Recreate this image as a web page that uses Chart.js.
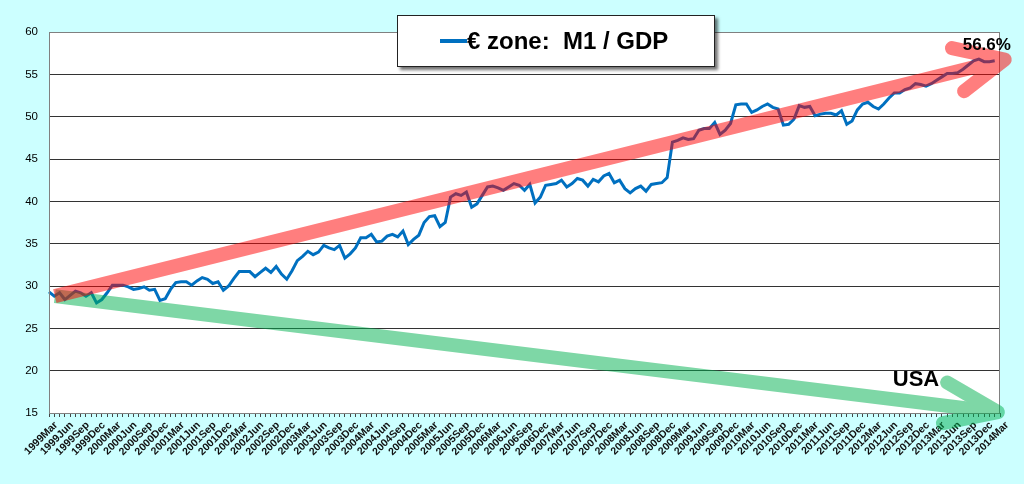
<!DOCTYPE html>
<html><head><meta charset="utf-8">
<script src="https://cdn.jsdelivr.net/npm/chart.js@4"></script>
<style>html,body{margin:0;padding:0;background:#CCFFFF;overflow:hidden}</style>
</head><body>
<canvas id="c" width="1024" height="484" style="width:1024px;height:484px;display:block"></canvas>
<script>
const monthNames = ['Jan','Feb','Mar','Apr','May','Jun','Jul','Aug','Sep','Oct','Nov','Dec'];
const firstYear = 1999, firstMonth = 2, lastYear = 2014, lastMonth = 2;
const categories = [];
for (let y = firstYear; y <= lastYear; y++) {
  for (let m = 0; m < 12; m++) {
    if (y === firstYear && m < firstMonth) continue;
    if (y === lastYear && m > lastMonth) continue;
    categories.push(y + monthNames[m]);
  }
}
const m1gdp = [
 29.3,28.8,29.2,28.4,28.9,29.4,29.2,28.8,29.2,28.0,28.4,29.2,
 30.1,30.1,30.1,29.9,29.6,29.7,29.9,29.5,29.6,28.3,28.5,29.6,
 30.4,30.5,30.5,30.1,30.6,31.0,30.8,30.3,30.5,29.5,30.0,30.9,
 31.7,31.7,31.7,31.1,31.6,32.1,31.6,32.3,31.4,30.8,31.8,33.0,
 33.5,34.1,33.7,34.0,34.8,34.5,34.3,34.8,33.3,33.8,34.5,35.7,
 35.7,36.1,35.2,35.3,35.9,36.1,35.8,36.5,34.9,35.5,36.0,37.5,
 38.2,38.3,37.0,37.5,40.5,40.9,40.7,41.1,39.3,39.7,40.7,41.7,
 41.8,41.6,41.3,41.7,42.1,41.9,41.3,42.0,39.8,40.5,41.9,42.0,
 42.1,42.5,41.7,42.1,42.7,42.5,41.8,42.6,42.3,43.0,43.3,42.2,
 42.5,41.5,41.0,41.5,41.8,41.2,42.0,42.1,42.2,42.8,47.0,47.2,
 47.5,47.3,47.4,48.4,48.6,48.6,49.3,47.9,48.4,49.2,51.4,51.5,
 51.5,50.5,50.8,51.2,51.5,51.1,50.9,49.0,49.1,49.7,51.3,51.1,
 51.2,50.1,50.3,50.4,50.4,50.2,50.7,49.1,49.5,50.8,51.5,51.7,
 51.2,50.9,51.5,52.2,52.8,52.8,53.2,53.4,53.9,53.8,53.6,53.9,
 54.3,54.7,55.1,55.1,55.2,55.6,56.1,56.6,56.8,56.5,56.5,56.6,
 null
];
const yMin = 15, yMax = 60, yStep = 5;
const seriesLabel = '€ zone:  M1 / GDP';
const endLabel = '56.6%';
const usaLabel = 'USA';
// annotation arrows in data space: [categoryIndex, value]
const euroArrow = { start:[1.1,28.8], tip:[180.9,56.75], arm1:[170.9,58.1], arm2:[173.2,53.0] };
const usaArrow  = { start:[1.1,28.8], tip:[179.6,15.1], arm1:[170.0,18.6], arm2:[169.2,13.8] };
const endLabelPos = [177.5,58.4];
const usaLabelPos = [164.1,18.9];

const FONT = "'Liberation Sans', Arial, sans-serif";

function drawArrow(chart, arr, color, width){
  const xs = chart.scales.x, ys = chart.scales.y;
  const P = p => [xs.getPixelForValue(p[0]), ys.getPixelForValue(p[1])];
  const off = document.createElement('canvas');
  off.width = chart.canvas.width; off.height = chart.canvas.height;
  const o = off.getContext('2d');
  const r = chart.currentDevicePixelRatio || 1;
  o.scale(r, r);
  o.strokeStyle = color; o.lineWidth = width;
  const s = P(arr.start), t = P(arr.tip), a1 = P(arr.arm1), a2 = P(arr.arm2);
  o.lineCap = 'butt';
  o.beginPath(); o.moveTo(s[0], s[1]); o.lineTo(t[0], t[1]); o.stroke();
  o.lineCap = 'round'; o.lineJoin = 'round';
  o.beginPath(); o.moveTo(a1[0], a1[1]); o.lineTo(t[0], t[1]); o.lineTo(a2[0], a2[1]); o.stroke();
  const ctx = chart.ctx;
  ctx.save();
  ctx.setTransform(1,0,0,1,0,0);
  ctx.globalAlpha = 0.5;
  ctx.drawImage(off, 0, 0);
  ctx.restore();
}

const decor = {
  id: 'decor',
  beforeDraw(chart){
    const {ctx, chartArea:a} = chart;
    ctx.save();
    ctx.fillStyle = '#CCFFFF';
    ctx.fillRect(0, 0, chart.width, chart.height);
    ctx.fillStyle = '#FFFFFF';
    ctx.fillRect(a.left, a.top, a.right - a.left, a.bottom - a.top);
    ctx.restore();
  },
  afterDatasetsDraw(chart){
    const {ctx, chartArea:a} = chart;
    ctx.save();
    ctx.strokeStyle = '#808080'; ctx.lineWidth = 1;
    ctx.strokeRect(a.left + 0.5, a.top + 0.5, a.right - a.left - 1, a.bottom - a.top);
    ctx.restore();
  },
  afterDraw(chart){
    const ctx = chart.ctx;
    drawArrow(chart, usaArrow, '#00B050', 14);
    drawArrow(chart, euroArrow, '#FF0000', 14);
    const xs = chart.scales.x, ys = chart.scales.y;
    ctx.save();
    ctx.shadowColor = 'rgba(0,0,0,0.55)';
    ctx.shadowOffsetX = 3; ctx.shadowOffsetY = 3; ctx.shadowBlur = 3;
    ctx.fillStyle = '#FFFFFF';
    ctx.fillRect(397, 15, 318, 52);
    ctx.shadowColor = 'transparent';
    ctx.strokeStyle = '#222'; ctx.lineWidth = 1;
    ctx.strokeRect(397.5, 15.5, 317, 51);
    const ds = chart.data.datasets[0];
    ctx.strokeStyle = ds.borderColor; ctx.lineWidth = 4;
    ctx.beginPath(); ctx.moveTo(440, 41); ctx.lineTo(467, 41); ctx.stroke();
    ctx.fillStyle = '#000';
    ctx.font = 'bold 24px ' + FONT;
    ctx.textBaseline = 'alphabetic'; ctx.textAlign = 'left';
    ctx.fillText(ds.label, 467, 49);
    ctx.font = 'bold 17px ' + FONT;
    ctx.textAlign = 'center'; ctx.textBaseline = 'middle';
    ctx.fillText(endLabel, xs.getPixelForValue(endLabelPos[0]), ys.getPixelForValue(endLabelPos[1]));
    ctx.font = 'bold 22px ' + FONT;
    ctx.fillText(usaLabel, xs.getPixelForValue(usaLabelPos[0]), ys.getPixelForValue(usaLabelPos[1]));
    ctx.restore();
  }
};

new Chart(document.getElementById('c'), {
  type: 'line',
  data: {
    labels: categories,
    datasets: [{
      label: seriesLabel,
      data: m1gdp,
      borderColor: '#0070C0',
      borderWidth: 3,
      pointRadius: 0,
      tension: 0,
      fill: false
    }]
  },
  options: {
    responsive: false,
    animation: false,
    devicePixelRatio: 1,
    layout: { padding: { left: 0, right: 24, top: 32, bottom: 0 } },
    plugins: { legend: { display: false }, tooltip: { enabled: false } },
    scales: {
      x: {
        type: 'category',
        offset: false,
        afterFit: s => { s.height = 71; },
        grid: { drawOnChartArea: false, drawTicks: true, tickLength: 4, color: '#444' },
        border: { color: '#444', width: 1 },
        ticks: {
          autoSkip: false, maxRotation: 45, minRotation: 45, padding: 2,
          labelOffset: 7,
          color: '#111',
          font: { family: FONT, size: 10.5, weight: 'bold' },
          callback: (v, i) => (i % 3 === 0 ? categories[i] : '')
        }
      },
      y: {
        min: yMin, max: yMax,
        afterFit: s => { s.width = 49; },
        grid: { drawTicks: false, color: c => (c.tick.value === yMax ? 'rgba(0,0,0,0)' : '#333') },
        border: { color: '#808080', width: 1 },
        ticks: {
          stepSize: yStep, padding: 11, color: '#000',
          font: { family: FONT, size: 11.5 }
        }
      }
    }
  },
  plugins: [decor]
});
</script>
</body></html>
